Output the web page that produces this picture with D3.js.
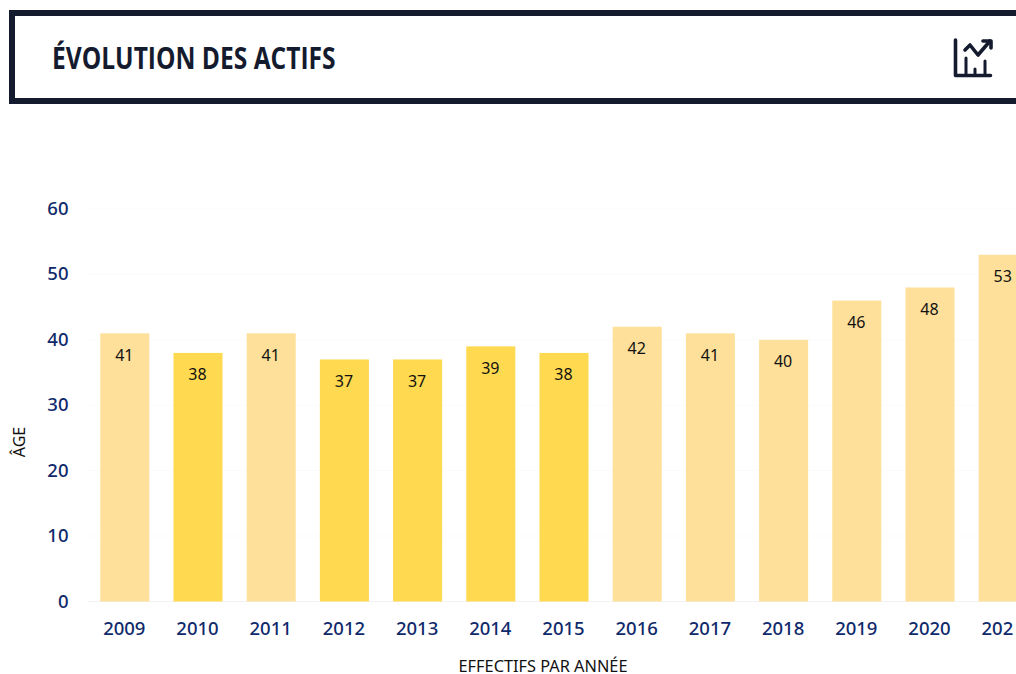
<!DOCTYPE html>
<html><head><meta charset="utf-8">
<script src="https://cdn.jsdelivr.net/npm/d3@7/dist/d3.min.js"></script>
<style>html,body{margin:0;padding:0;background:#fff;overflow:hidden}svg{display:block}text{font-family:"Noto Sans","Open Sans",sans-serif}</style>
</head><body><svg id="c" width="1016" height="674"></svg>
<script>
const years = ["2009","2010","2011","2012","2013","2014","2015","2016","2017","2018","2019","2020","2021"];
const ages = [41,38,41,37,37,39,38,42,41,40,46,48,53];
const highlighted = ["2010","2012","2013","2014","2015"];
const yTicks = [0,10,20,30,40,50,60];
const titleText = "ÉVOLUTION DES ACTIFS";
const xTitle = "EFFECTIFS PAR ANNÉE";
const yTitle = "ÂGE";

const svg = d3.select("#c");
const ink = "#151b2e", navy = "#0f2a6b";
const x = d3.scaleBand().domain(years).range([88.2, 1039.8]).paddingInner(0.33).paddingOuter(0.165);
const y = d3.scaleLinear().domain([0,60]).range([601.5, 209]);

// header
svg.append("rect").attr("x",12).attr("y",13).attr("width",1020).attr("height",88)
  .attr("fill","#fff").attr("stroke",ink).attr("stroke-width",6);
svg.append("text").attr("transform","translate(52,69) scale(0.792,1)")
  .style("font-family",'"Open Sans","Noto Sans",sans-serif')
  .attr("font-size",31).attr("font-weight",700).attr("fill",ink).text(titleText);

// icon
const ic = svg.append("g").attr("fill","none").attr("stroke",ink).attr("stroke-width",3.6)
  .attr("stroke-linecap","round").attr("stroke-linejoin","round");
ic.append("path").attr("d","M955.5 40V75.5H990.5");
ic.append("path").attr("d","M966 58V75M975 69V75M985 61V75").attr("stroke-width",3);
ic.append("path").attr("d","M965 50L970 45L978 55L990 41");
ic.append("path").attr("d","M983 41H991V48");

// grid
svg.append("g").selectAll("line").data(yTicks).join("line")
  .attr("x1",88).attr("x2",1016).attr("y1",d=>y(d)).attr("y2",d=>y(d))
  .attr("stroke",d=>d===0?"#f2f2f2":"#fbfbfb").attr("stroke-width",1);

// bars
svg.append("g").selectAll("rect").data(years).join("rect")
  .attr("x",d=>x(d)).attr("width",x.bandwidth())
  .attr("y",(d,i)=>y(ages[i])).attr("height",(d,i)=>y(0)-y(ages[i]))
  .attr("fill",d=>highlighted.includes(d)?"#ffd94f":"#fee09a");

// value labels
svg.append("g").selectAll("text").data(years).join("text")
  .attr("x",d=>x(d)+x.bandwidth()/2-0.5).attr("y",(d,i)=>y(ages[i])+27.5)
  .attr("text-anchor","middle").attr("font-size",16).attr("fill","#111").text((d,i)=>ages[i]);

// axes
const yAxis = svg.append("g").attr("transform","translate(68.5,0)")
  .call(d3.axisLeft(y).tickValues(yTicks).tickSize(0).tickPadding(0));
yAxis.select(".domain").remove();
yAxis.selectAll("text").attr("font-size",18.5).attr("font-weight",500).attr("fill",navy)
  .style("font-family",'"Noto Sans","Open Sans",sans-serif').attr("dy","0.3em");
svg.append("clipPath").attr("id","xclip").append("rect").attr("x",0).attr("y",600).attr("width",1014).attr("height",60);
const xWrap = svg.append("g").attr("clip-path","url(#xclip)");
const xAxis = xWrap.append("g").attr("transform","translate(-0.5,618)")
  .call(d3.axisBottom(x).tickSize(0).tickPadding(0));
xAxis.select(".domain").remove();
xAxis.selectAll("text").attr("font-size",18.5).attr("font-weight",500).attr("fill",navy)
  .style("font-family",'"Noto Sans","Open Sans",sans-serif').attr("dy","0.9em");

svg.append("text").attr("transform","translate(543,672) scale(1.02,1)").attr("text-anchor","middle")
  .attr("font-size",16).attr("fill","#111").text(xTitle);
svg.append("text").attr("transform","translate(25,442) rotate(-90)").attr("text-anchor","middle")
  .attr("font-size",16).attr("fill","#111").text(yTitle);
</script></body></html>
